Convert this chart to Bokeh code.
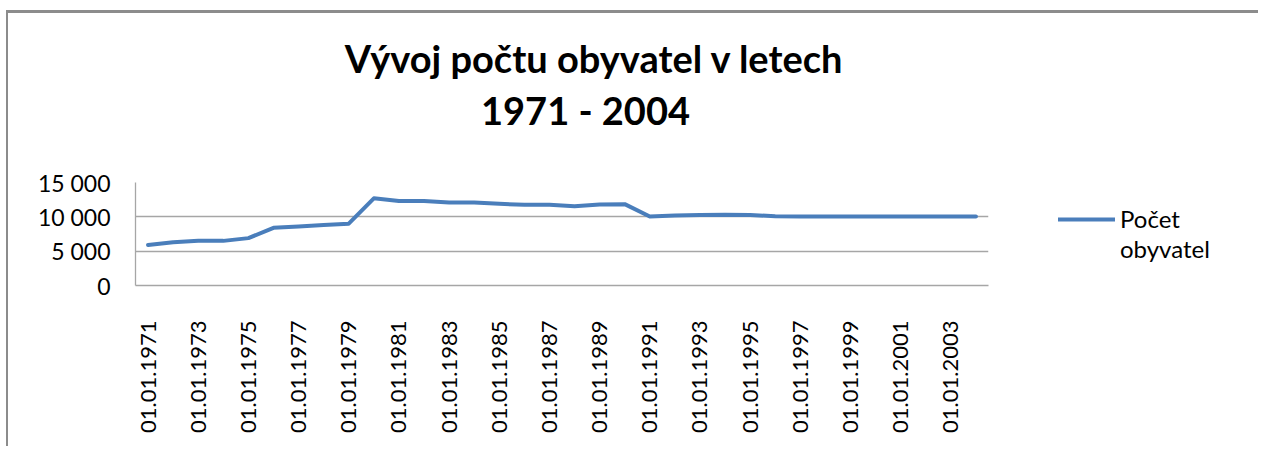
import math
from bokeh.plotting import figure
from bokeh.layouts import row
from bokeh.models import Range1d, FixedTicker, Legend, LegendItem, Title
from bokeh.embed import file_html
from bokeh.resources import INLINE

# ---- data ----
years = [1971, 1972, 1973, 1974, 1975, 1976, 1977, 1978, 1979, 1980,
         1981, 1982, 1983, 1984, 1985, 1986, 1987, 1988, 1989, 1990,
         1991, 1992, 1993, 1994, 1995, 1996, 1997, 1998, 1999, 2000,
         2001, 2002, 2003, 2004]
population = [5900, 6300, 6500, 6500, 6900, 8400, 8600, 8800, 9000, 12700,
              12300, 12300, 12100, 12100, 11900, 11750, 11750, 11550, 11800, 11850,
              10050, 10200, 10250, 10300, 10250, 10100, 10050, 10050, 10050, 10050,
              10050, 10050, 10050, 10050]
date_labels = ["01.01." + str(y) for y in years]
y_ticks = [0, 5000, 10000, 15000]
y_tick_labels = ["0", "5 000", "10 000", "15 000"]
title_line1 = "Vývoj počtu obyvatel v letech"
title_line2 = "1971 - 2004"
series_name = ["Počet", "obyvatel"]

FONT = "Lato"
LINE_COLOR = "#4a7ebb"
GRID = "#a6a6a6"

idx = list(range(len(years)))

# ---- main chart ----
p = figure(width=990, height=433, output_backend="svg", toolbar_location=None,
           x_range=Range1d(-0.5, len(years) - 0.5), y_range=Range1d(y_ticks[0], y_ticks[-1]),
           min_border_left=127, min_border_right=10, min_border_top=169, min_border_bottom=161)
p.outline_line_color = None
p.background_fill_color = "white"
p.border_fill_color = "white"

# title: first line (outer), second line added nearer the frame
p.title.text = title_line1
p.title.align = "center"
p.title.text_font = FONT
p.title.text_font_size = "38px"
p.title.text_font_style = "bold"
p.title.text_color = "black"
p.title.standoff = 0
p.title.padding = dict(left=65, right=0, top=0, bottom=4)
t2 = Title(text=title_line2, align="center", text_font=FONT, text_font_size="38px",
           text_font_style="bold", text_color="black", standoff=0,
           padding=dict(left=47, right=0, top=0, bottom=50))
p.add_layout(t2, "above")

p.xgrid.visible = False
p.ygrid.grid_line_color = GRID
p.ygrid.grid_line_width = 1.3
p.ygrid.ticker = FixedTicker(ticks=y_ticks)

p.yaxis.ticker = FixedTicker(ticks=y_ticks)
p.yaxis.major_label_overrides = {t: l for t, l in zip(y_ticks, y_tick_labels)}
p.yaxis.axis_line_color = GRID
p.yaxis.axis_line_width = 1.3
p.yaxis.major_tick_line_color = None
p.yaxis.minor_tick_line_color = None
p.yaxis.major_label_standoff = 19
p.yaxis.major_label_text_font = FONT
p.yaxis.major_label_text_font_size = "23px"
p.yaxis.major_label_text_color = "black"

p.xaxis.ticker = FixedTicker(ticks=idx[::2])
p.xaxis.major_label_overrides = {i: date_labels[i] for i in idx[::2]}
p.xaxis.major_label_orientation = math.pi / 2
p.xaxis.axis_line_color = GRID
p.xaxis.axis_line_width = 1.3
p.xaxis.major_tick_line_color = None
p.xaxis.minor_tick_line_color = None
p.xaxis.major_label_standoff = 29
p.xaxis.major_label_text_font = FONT
p.xaxis.major_label_text_font_size = "22px"
p.xaxis.major_label_text_color = "black"

p.line(idx, population, line_color=LINE_COLOR, line_width=4,
       line_join="round", line_cap="round")

# ---- legend area (its frame is aligned with the main frame by the row) ----
p2 = figure(width=260, height=433, output_backend="svg", toolbar_location=None,
            min_border=0, x_axis_location=None, y_axis_location=None, title=None)
p2.outline_line_color = None
p2.xgrid.visible = False
p2.ygrid.visible = False
p2.background_fill_color = "white"
p2.border_fill_color = "white"
r2 = p2.line(idx, population, line_color=LINE_COLOR, line_width=4,
             line_cap="round", visible=False)
r2b = p2.line(idx, population, line_alpha=0, visible=False)
legend = Legend(items=[LegendItem(label=series_name[0], renderers=[r2]),
                       LegendItem(label=series_name[1], renderers=[r2b])],
                location=(60, 21.5), padding=0, margin=0, spacing=0,
                glyph_width=57, glyph_height=30, label_height=30, label_standoff=5,
                border_line_color=None, background_fill_alpha=0,
                label_text_font=FONT, label_text_font_size="24px", label_text_color="black")
p2.add_layout(legend, "center")

layout = row(p, p2, spacing=0)
layout.styles = {"border-top": "3px solid #8c8c8c", "border-left": "2px solid #8c8c8c",
                 "margin-left": "6px", "margin-top": "10px"}

open("out.html", "w").write(file_html(layout, INLINE))
